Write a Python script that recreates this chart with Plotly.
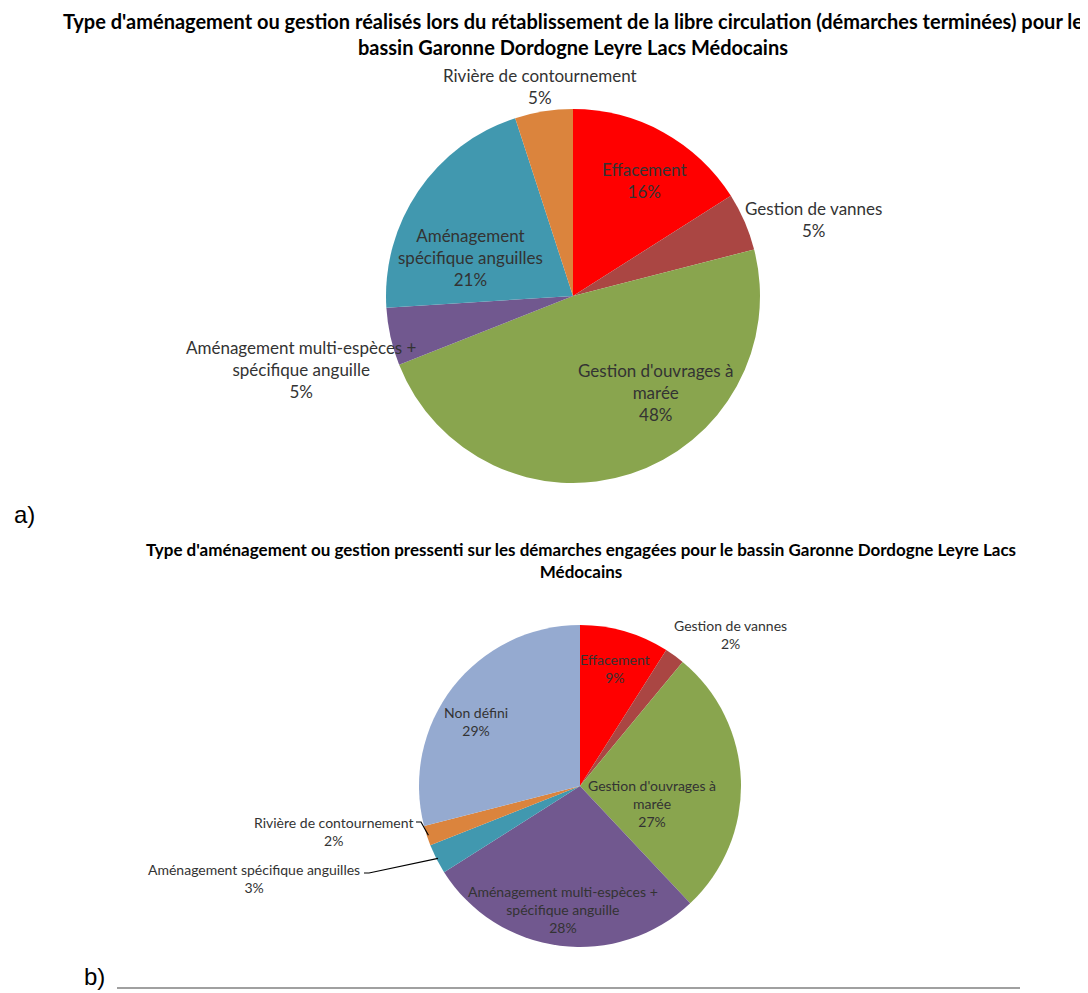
import plotly.graph_objects as go
import numpy as np

W, H = 1088, 993

# ---------------- data ----------------
title_a = ("Type d'aménagement ou gestion réalisés lors du rétablissement de la libre circulation "
           "(démarches terminées) pour le<br>bassin Garonne Dordogne Leyre Lacs Médocains")
labels_a = ["Effacement", "Gestion de vannes", "Gestion d'ouvrages à marée",
            "Aménagement multi-espèces + spécifique anguille",
            "Aménagement spécifique anguilles", "Rivière de contournement"]
display_a = ["Effacement", "Gestion de vannes", "Gestion d'ouvrages à<br>marée",
             "Aménagement multi-espèces +<br>spécifique anguille",
             "Aménagement<br>spécifique anguilles", "Rivière de contournement"]
values_a = [16, 5, 48, 5, 21, 5]

title_b = ("Type d'aménagement ou gestion pressenti sur les démarches engagées pour le bassin "
           "Garonne Dordogne Leyre Lacs<br>Médocains")
labels_b = ["Effacement", "Gestion de vannes", "Gestion d'ouvrages à marée",
            "Aménagement multi-espèces + spécifique anguille",
            "Aménagement spécifique anguilles", "Rivière de contournement", "Non défini"]
display_b = ["Effacement", "Gestion de vannes", "Gestion d'ouvrages à<br>marée",
             "Aménagement multi-espèces +<br>spécifique anguille",
             "Aménagement spécifique anguilles", "Rivière de contournement", "Non défini"]
values_b = [9, 2, 27, 28, 3, 2, 29]

# ---------------- styles ----------------
color_map = {
    "Effacement": "#FF0000",
    "Gestion de vannes": "#AA4643",
    "Gestion d'ouvrages à marée": "#89A54E",
    "Aménagement multi-espèces + spécifique anguille": "#71588F",
    "Aménagement spécifique anguilles": "#4198AF",
    "Rivière de contournement": "#DB843D",
    "Non défini": "#95AAD0",
}

# pie geometry in page pixels: centre x, centre y, radius
geo_a = (573, 296, 187)
geo_b = (580, 786, 161)

# label block centres (page pixels)
pos_a = [(644, 180), (813, 220), (655, 393), (301, 369), (470, 257), (540, 86)]
pos_b = [(615, 668), (730, 634), (652, 803), (563, 909), (254, 878), (334, 831), (476, 721)]
font_a = 17
font_b = 14

LABEL_FONT = "Lato, Open Sans, sans-serif"
TEXT_COLOR = "#333333"

OFF = 8  # default page body margin


def px(x):
    return (x - OFF) / W


def py(y):
    return 1 - (y - OFF) / H


def domain(geo):
    cx, cy, r = geo
    return dict(x=[px(cx - r), px(cx + r)], y=[py(cy + r), py(cy - r)])


def edge_point(values, i, geo, frac=1.0):
    """Point on the pie edge at the mid-angle of slice i (clockwise from 12 o'clock)."""
    cx, cy, r = geo
    cum = np.cumsum([0] + list(values))
    tot = cum[-1]
    mid = (cum[i] + cum[i + 1]) / 2 / tot * 2 * np.pi
    return cx + r * frac * np.sin(mid), cy - r * frac * np.cos(mid)


fig = go.Figure()

for labels, values, geo in [(labels_a, values_a, geo_a), (labels_b, values_b, geo_b)]:
    fig.add_trace(go.Pie(
        labels=labels, values=values, sort=False, direction="clockwise", rotation=0,
        marker=dict(colors=[color_map[l] for l in labels], line=dict(width=0)),
        textinfo="none", hoverinfo="label+percent", showlegend=False,
        domain=domain(geo),
    ))

annotations = []
for disp, values, pos, fs in [(display_a, values_a, pos_a, font_a),
                              (display_b, values_b, pos_b, font_b)]:
    tot = sum(values)
    for d, v, (x, y) in zip(disp, values, pos):
        pct = int(round(100 * v / tot))
        annotations.append(dict(
            x=px(x), y=py(y), xref="paper", yref="paper", showarrow=False,
            text=f"{d}<br>{pct}%", align="center", xanchor="center", yanchor="middle",
            font=dict(family=LABEL_FONT, size=fs, color=TEXT_COLOR),
        ))

# titles
annotations.append(dict(x=px(573), y=py(34), xref="paper", yref="paper", showarrow=False,
                        text=f"<b>{title_a}</b>", xanchor="center", yanchor="middle",
                        font=dict(family=LABEL_FONT, size=20, color="#000000")))
annotations.append(dict(x=px(581), y=py(560), xref="paper", yref="paper", showarrow=False,
                        text=f"<b>{title_b}</b>", xanchor="center", yanchor="middle",
                        font=dict(family=LABEL_FONT, size=17, color="#000000")))
# panel letters
annotations.append(dict(x=px(12), y=py(515), xref="paper", yref="paper", showarrow=False,
                        text="a)", xanchor="left", yanchor="middle",
                        font=dict(family="Liberation Sans, Arial, sans-serif", size=24, color="#000000")))
annotations.append(dict(x=px(82), y=py(976), xref="paper", yref="paper", showarrow=False,
                        text="b)", xanchor="left", yanchor="middle",
                        font=dict(family="Liberation Sans, Arial, sans-serif", size=24, color="#000000")))

shapes = []
# leader lines for the small slices of chart b
leaders = [(5, (416, 822)), (4, (364, 873))]
for idx, (tx, ty) in leaders:
    ex, ey = edge_point(values_b, idx, geo_b, 0.99)
    path = f"M {px(tx)},{py(ty)} L {px(tx + 5)},{py(ty)} L {px(ex)},{py(ey)}"
    shapes.append(dict(type="path", xref="paper", yref="paper", path=path,
                       line=dict(color="#000000", width=1.2)))
# bottom rule
shapes.append(dict(type="line", xref="paper", yref="paper", x0=px(117), x1=px(1020),
                   y0=py(988), y1=py(988), line=dict(color="#A0A0A0", width=2)))

fig.update_layout(
    width=W, height=H, margin=dict(l=0, r=0, t=0, b=0),
    paper_bgcolor="white", plot_bgcolor="white",
    annotations=annotations, shapes=shapes,
)

fig.write_html("out.html")
